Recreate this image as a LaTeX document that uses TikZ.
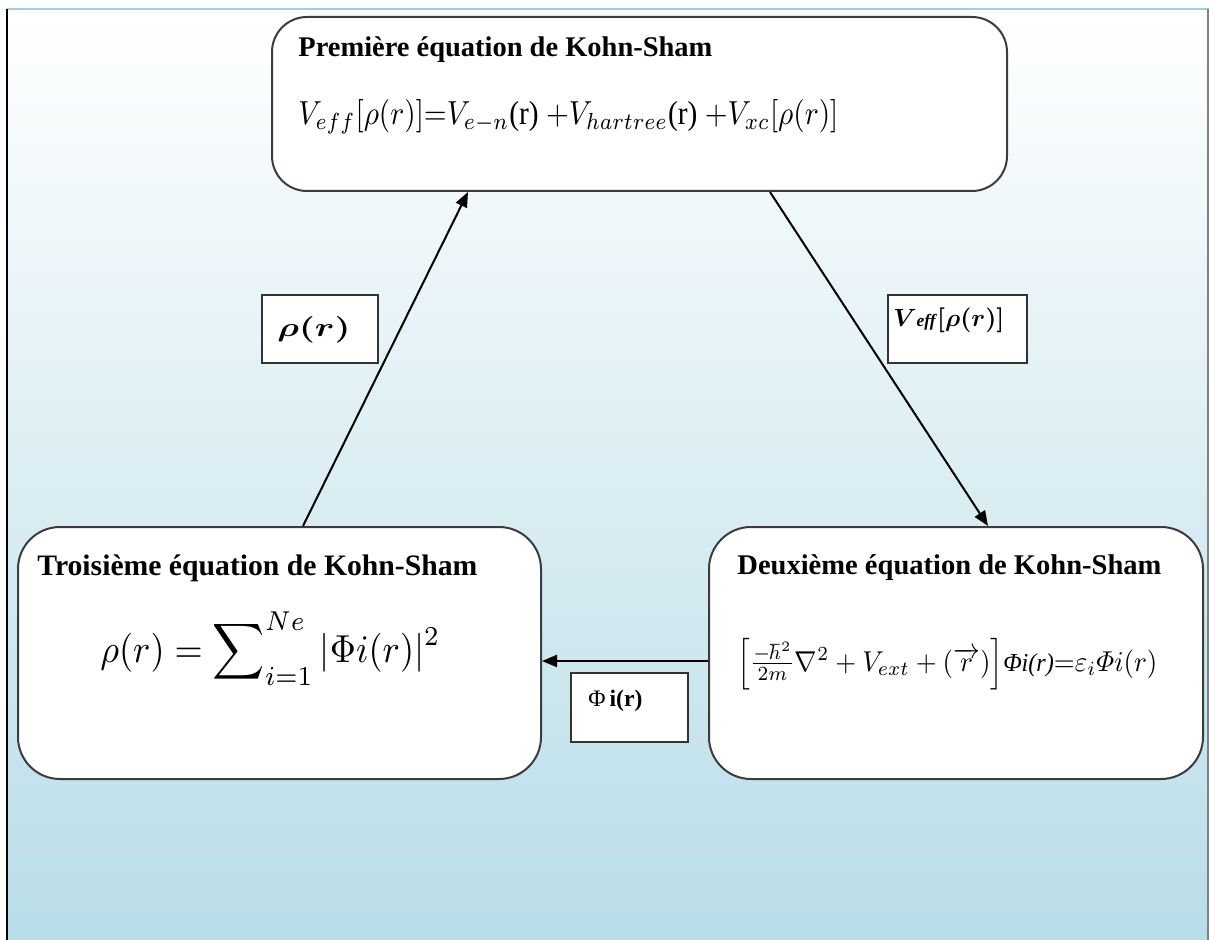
\documentclass[tikz,border=0pt]{standalone}
\usepackage{fontspec}
\setmainfont{Liberation Serif}
\usepackage{amsmath,bm}
\usetikzlibrary{arrows.meta}
\definecolor{bgblue}{RGB}{184,221,232}
\definecolor{rimblue}{RGB}{160,208,222}
\definecolor{boxline}{RGB}{60,60,60}
% scale a piece of text to a given width (and optionally a given height)
\newcommand{\fitw}[2]{\resizebox{#1}{!}{#2}}
\newcommand{\fitwh}[3]{\resizebox{#1}{#2}{#3}}
\begin{document}
\begin{tikzpicture}[x=0.5pt,y=-0.5pt,
  eqbox/.style={draw=boxline, line width=1pt, fill=white, rounded corners=17.5pt,
                anchor=north west, inner sep=0pt},
  labbox/.style={draw=black!80, line width=1pt, fill=white, anchor=north west, inner sep=0pt},
  flow/.style={-{Triangle[length=7.5pt,width=6pt]}, line width=1pt, black},
  txt/.style={anchor=base west, inner sep=0pt}]
\useasboundingbox (0,0) rectangle (1209,940);
% page background
\fill[white] (0,0) rectangle (1209,940);
\shade[top color=white, bottom color=bgblue] (7,9) rectangle (1209,940);
\draw[rimblue, line width=1pt] (7,9.5) -- (1209,9.5);
\draw[black, line width=1.2pt] (7,9) -- (7,940);
\draw[gray, line width=1pt] (1208,9) -- (1208,940);

% the three equation boxes
\node[eqbox, minimum width=367.5pt, minimum height=87pt] (ks1) at (271,16) {};
\node[eqbox, rounded corners=21pt, minimum width=261.5pt, minimum height=126pt] (ks3) at (17,526) {};
\node[eqbox, rounded corners=21pt, minimum width=247pt, minimum height=126pt] (ks2) at (708,526) {};

% label boxes beside the arrows
\node[labbox, minimum width=58pt, minimum height=34pt] (lrho) at (261,294) {};
\node[labbox, minimum width=69.5pt, minimum height=34pt] (lveff) at (887,294) {};
\node[labbox, minimum width=58.5pt, minimum height=34.5pt] (lphi) at (570,672) {};

% texts of the first equation
\node[txt] (t1) at (298,57) {\fitw{207pt}{\bfseries Première équation de Kohn-Sham}};
\node[txt] (e1) at (298,125) {\fitwh{270pt}{12.5pt}{$V_{eff}[\rho(r)]{=}V_{e-n}\textrm{(r)}\ {+}V_{hartree}\textrm{(r)}\ {+}V_{xc}[\rho(r)]$}};

% texts of the second equation
\node[txt] (t2) at (737,574) {\fitw{212pt}{\bfseries Deuxième équation de Kohn-Sham}};
\node[txt] (e2) at (737,671) {\fitwh{210pt}{16.5pt}{$\left[\frac{-\hbar^2}{2m}\nabla^2 + V_{ext} + (\overrightarrow{r})\right]$\textit{\small Φi(r)}${=}\varepsilon_i\varPhi i(r)$}};

% texts of the third equation
\node[txt] (t3) at (37,575) {\fitw{220pt}{\bfseries Troisième équation de Kohn-Sham}};
\node[txt] (e3) at (100,662) {\fitwh{170pt}{25pt}{$\rho(r) = \displaystyle\sum\nolimits_{i=1}^{Ne} |\Phi i(r)|^2$}};

% labels
\node[txt] (trho) at (277,337) {\fitwh{36.5pt}{10pt}{$\bm{\rho(r)}$}};
\node[txt] (tveff) at (893,327) {\fitw{55.5pt}{$\bm{V}$\textbf{\textit{\scriptsize eff}}$\bm{[\rho(r)]}$}};
\node[txt] (tphi) at (588,706) {\fitw{27pt}{Φ\,\textbf{i(r)}}};

% arrow end points on the box borders
\path (ks3.north west) ++(286,0) coordinate (a1s);
\path (ks1.south west) ++(197,0) coordinate (a1e);
\path (ks1.south west) ++(499,0) coordinate (a2s);
\path (ks2.north west) ++(280,0) coordinate (a2e);
\path (ks2.north west) ++(0,135) coordinate (a3s);
\path (ks3.north east) ++(0,135) coordinate (a3e);

\draw[flow] (a1s) -- (a1e);
\draw[flow] (a2s) -- (a2e);
\draw[flow] (a3s) -- (a3e);
\end{tikzpicture}
\end{document}
